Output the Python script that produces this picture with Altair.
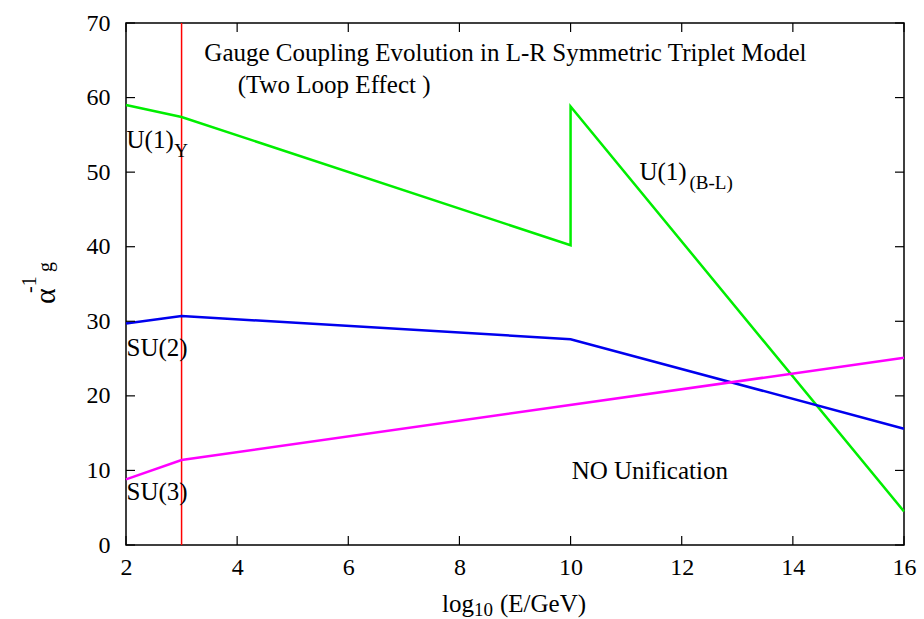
import altair as alt
import pandas as pd

# Inverse gauge couplings vs log10(E/GeV)
energy_u1 = [2, 3, 10, 10, 16]
alpha_u1 = [59.0, 57.4, 40.2, 58.8, 4.5]
energy_su2 = [2, 3, 10, 16]
alpha_su2 = [29.7, 30.7, 27.6, 15.6]
energy_su3 = [2, 3, 16]
alpha_su3 = [8.8, 11.4, 25.1]
threshold_energy = [3]

x_ticks = [2, 4, 6, 8, 10, 12, 14, 16]
y_ticks = [0, 10, 20, 30, 40, 50, 60, 70]

series_names = ["U1", "SU2", "SU3"]
series_colors = ["#00ee00", "#0000ee", "#ff00ff"]

W, H = 778, 522
FONT = "Liberation Serif"
FS = 25
SUB = 19
TICK_FS = 24

rows = []
for name, xs, ys in [("U1", energy_u1, alpha_u1),
                     ("SU2", energy_su2, alpha_su2),
                     ("SU3", energy_su3, alpha_su3)]:
    for i, (xv, yv) in enumerate(zip(xs, ys)):
        rows.append({"series": name, "step": i, "E": xv, "a": yv})
curves = pd.DataFrame(rows)

xscale = alt.Scale(domain=[2, 16], nice=False, zero=False)
yscale = alt.Scale(domain=[0, 70], nice=False, zero=False)

x_axis = alt.Axis(values=x_ticks, title=None, grid=False, domain=False, ticks=False,
                  tickSize=0, labelFont=FONT, labelFontSize=TICK_FS, labelColor="black",
                  labelPadding=10, labelFlush=False, format="d")
y_axis = alt.Axis(values=y_ticks, title=None, grid=False, domain=False, ticks=False,
                  tickSize=0, labelFont=FONT, labelFontSize=TICK_FS, labelColor="black",
                  labelPadding=16, format="d")


def X(field):
    return alt.X(field, scale=xscale, axis=x_axis)


def Y(field):
    return alt.Y(field, scale=yscale, axis=y_axis)


lines = alt.Chart(curves).mark_line(strokeWidth=2.5).encode(
    x=X("E:Q"),
    y=Y("a:Q"),
    color=alt.Color("series:N", scale=alt.Scale(domain=series_names, range=series_colors),
                    legend=None),
    detail="series:N",
    order="step:Q",
)

threshold = alt.Chart(pd.DataFrame({"E": threshold_energy})).mark_rule(
    color="#ff0000", strokeWidth=1.5
).encode(
    x=X("E:Q"),
    y=alt.value(0),
    y2=alt.value(H),
)

# inward ticks on all four sides of the frame
xt = pd.DataFrame({"E": x_ticks})
yt = pd.DataFrame({"a": y_ticks})
tick_style = dict(color="black", strokeWidth=1.2)
ticks_bottom = alt.Chart(xt).mark_rule(**tick_style).encode(
    x=X("E:Q"), y=alt.value(H), y2=alt.value(H - 9))
ticks_top = alt.Chart(xt).mark_rule(**tick_style).encode(
    x=X("E:Q"), y=alt.value(0), y2=alt.value(9))
ticks_left = alt.Chart(yt).mark_rule(**tick_style).encode(
    y=Y("a:Q"), x=alt.value(0), x2=alt.value(9))
ticks_right = alt.Chart(yt).mark_rule(**tick_style).encode(
    y=Y("a:Q"), x=alt.value(W - 9), x2=alt.value(W))

# labels inside the plot, placed in data coordinates
notes = pd.DataFrame([
    {"t": "Gauge Coupling Evolution in L-R Symmetric Triplet Model", "E": 3.41, "a": 64.9, "s": FS},
    {"t": "(Two Loop Effect )", "E": 4.01, "a": 60.6, "s": FS},
    {"t": "U(1)", "E": 2.01, "a": 53.2, "s": FS},
    {"t": "Y", "E": 2.87, "a": 52.0, "s": SUB},
    {"t": "SU(2)", "E": 2.01, "a": 25.4, "s": FS},
    {"t": "SU(3)", "E": 2.01, "a": 6.0, "s": FS},
    {"t": "U(1)", "E": 11.24, "a": 48.9, "s": FS},
    {"t": "(B-L)", "E": 12.14, "a": 47.8, "s": SUB},
    {"t": "NO Unification", "E": 10.02, "a": 8.9, "s": FS},
])
note_marks = alt.Chart(notes).mark_text(
    align="left", baseline="alphabetic", font=FONT, color="black"
).encode(
    x=X("E:Q"),
    y=Y("a:Q"),
    text="t:N",
    size=alt.Size("s:Q", scale=None),
)

# axis titles with sub/superscripts, in pixel offsets from the plot area
xtitle = pd.DataFrame([
    {"t": "log", "px": 316, "py": 589, "s": FS},
    {"t": "10", "px": 348, "py": 593, "s": SUB},
    {"t": "(E/GeV)", "px": 374, "py": 589, "s": FS},
])
xtitle_marks = alt.Chart(xtitle).mark_text(
    align="left", baseline="alphabetic", font=FONT, color="black"
).encode(
    x=alt.X("px:Q", scale=None, axis=None),
    y=alt.Y("py:Q", scale=None, axis=None),
    text="t:N",
    size=alt.Size("s:Q", scale=None),
)

ytitle = pd.DataFrame([
    {"t": "α", "px": -71, "py": 281, "s": 30},
    {"t": "-1", "px": -90, "py": 270, "s": 20},
    {"t": "g", "px": -74, "py": 249, "s": 20},
])
ytitle_marks = alt.Chart(ytitle).mark_text(
    align="left", baseline="alphabetic", font=FONT, color="black", angle=270
).encode(
    x=alt.X("px:Q", scale=None, axis=None),
    y=alt.Y("py:Q", scale=None, axis=None),
    text="t:N",
    size=alt.Size("s:Q", scale=None),
)

chart = alt.layer(
    threshold, lines, ticks_bottom, ticks_top, ticks_left, ticks_right,
    note_marks, xtitle_marks, ytitle_marks,
).properties(
    width=W, height=H,
    autosize=alt.AutoSizeParams(type="none"),
    padding={"left": 126, "top": 23, "right": 20, "bottom": 74},
    background="white",
).configure_view(
    stroke="black", strokeWidth=1.5
).configure_axis(
    labelFont=FONT
).configure_text(
    font=FONT
)

chart.save("out.html", embed_options={"renderer": "svg", "actions": False})
